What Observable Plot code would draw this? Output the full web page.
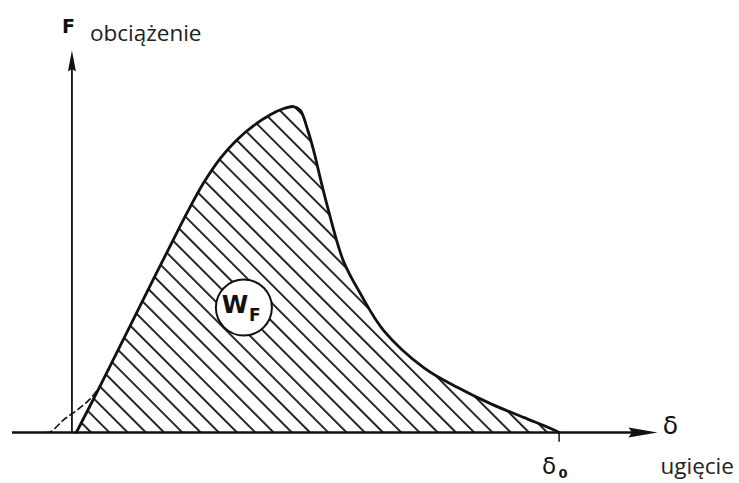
<!DOCTYPE html>
<html>
<head>
<meta charset="utf-8">
<script src="https://cdn.jsdelivr.net/npm/d3@7"></script>
<script src="https://cdn.jsdelivr.net/npm/@observablehq/plot@0.6"></script>
<style>
  html, body { margin: 0; padding: 0; background: #fff; }
  #chart svg { display: block; }
</style>
</head>
<body>
<div id="chart"></div>
<script>
// Load–deflection curve F(δ), δ normalised to δ0 = 1, F normalised to the peak load
const deflection = [0.009, 0.059, 0.120, 0.167, 0.202, 0.237, 0.271, 0.305, 0.339, 0.373, 0.408, 0.435, 0.455, 0.469, 0.483, 0.497, 0.510, 0.524, 0.557, 0.592, 0.640, 0.722, 0.792, 0.859, 0.927, 0.983, 1.0];
const load       = [0.000, 0.145, 0.327, 0.467, 0.570, 0.672, 0.763, 0.837, 0.893, 0.936, 0.970, 0.988, 0.994, 0.982, 0.927, 0.855, 0.774, 0.692, 0.524, 0.424, 0.311, 0.198, 0.137, 0.088, 0.046, 0.012, 0.0];

// Dashed toe: extrapolated initial slope running back to the δ axis
const toeDeflection = [-0.053, -0.043, -0.016, 0.012, 0.039, 0.059];
const toeLoad       = [0.000, 0.003, 0.040, 0.070, 0.105, 0.145];

// Axis extents and the fracture-energy marker
const deltaMin = -0.122, deltaMax = 1.202;
const loadMax = 1.165;
const deltaZero = 1.0;
const energyAt = {delta: 0.353, load: 0.381};

const labels = {
  loadSymbol: "F", loadName: "obciążenie",
  deflSymbol: "δ", deflName: "ugięcie",
  deltaZero: "δ", deltaZeroSub: "0",
  energy: "W", energySub: "F"
};

const curve = deflection.map((d, i) => ({delta: d, load: load[i]}));
const toe = toeDeflection.map((d, i) => ({delta: d, load: toeLoad[i]}));

// Filled, slightly notched arrowhead with its tip at the symbol origin, pointing right
const arrowHead = (len, half) => ({
  draw(ctx) {
    ctx.moveTo(0, 0);
    ctx.lineTo(-len, -half);
    ctx.lineTo(-len * 0.88, 0);
    ctx.lineTo(-len, half);
    ctx.closePath();
  }
});

// Hatch pattern definition rendered inside the plot's SVG
const hatchDefs = () => {
  const ns = "http://www.w3.org/2000/svg";
  const defs = document.createElementNS(ns, "defs");
  const pat = document.createElementNS(ns, "pattern");
  pat.setAttribute("id", "hatch");
  pat.setAttribute("patternUnits", "userSpaceOnUse");
  pat.setAttribute("width", "12.9");
  pat.setAttribute("height", "10");
  pat.setAttribute("patternTransform", "translate(4,0) rotate(-45)");
  const bar = document.createElementNS(ns, "rect");
  bar.setAttribute("x", "0");
  bar.setAttribute("y", "0");
  bar.setAttribute("width", "1.8");
  bar.setAttribute("height", "10");
  bar.setAttribute("fill", "#111");
  pat.appendChild(bar);
  defs.appendChild(pat);
  return defs;
};

const symbolFont = "'DejaVu Sans', sans-serif";
const wordFont = "'Open Sans', 'Noto Sans', sans-serif";

const chart = Plot.plot({
  width: 739,
  height: 483,
  margin: 0,
  x: {domain: [deltaMin, deltaMax], range: [12, 657], axis: null},
  y: {domain: [0, loadMax], range: [432, 50], axis: null},
  style: {background: "#fff"},
  marks: [
    hatchDefs,
    // hatched area W_F under the curve
    Plot.areaY(curve, {x: "delta", y: "load", fill: "url(#hatch)", curve: "catmull-rom"}),
    // axes
    Plot.ruleY([0], {x1: deltaMin, x2: deltaMax - 0.03, stroke: "#111", strokeWidth: 2.4}),
    Plot.ruleX([0], {y1: 0, y2: loadMax - 0.03, stroke: "#111", strokeWidth: 1.8}),
    Plot.dot([0], {x: deltaMax, y: 0, symbol: arrowHead(29, 5), fill: "#111", stroke: "none"}),
    Plot.dot([0], {x: 0, y: loadMax, symbol: arrowHead(21, 4), rotate: -90, fill: "#111", stroke: "none"}),
    // δ0 tick
    Plot.ruleX([deltaZero], {y1: 0, y2: -0.03, stroke: "#111", strokeWidth: 1.5}),
    // dashed extrapolation and the curve itself
    Plot.line(toe, {x: "delta", y: "load", stroke: "#111", strokeWidth: 1.6, strokeDasharray: "6,4", curve: "catmull-rom"}),
    Plot.line(curve, {x: "delta", y: "load", stroke: "#111", strokeWidth: 2.8, curve: "catmull-rom"}),
    // W_F circle
    Plot.dot([energyAt], {x: "delta", y: "load", r: 28, fill: "#fff", stroke: "#111", strokeWidth: 2}),
    Plot.text([energyAt], {x: "delta", y: "load", text: () => labels.energy, dx: -9, dy: -2, fontSize: 24, fontWeight: "bold", fontFamily: symbolFont, fill: "#111"}),
    Plot.text([energyAt], {x: "delta", y: "load", text: () => labels.energySub, dx: 11, dy: 8, fontSize: 17, fontWeight: "bold", fontFamily: symbolFont, fill: "#111"}),
    // axis labels
    Plot.text([0], {x: 0, y: loadMax, text: () => labels.loadSymbol, dx: -3.5, dy: -24, fontSize: 19, fontWeight: "bold", fontFamily: symbolFont, fill: "#111"}),
    Plot.text([0], {x: 0, y: loadMax, text: () => labels.loadName, dx: 18, dy: -17, textAnchor: "start", fontSize: 22.5, fontFamily: wordFont, fill: "#222"}),
    Plot.text([0], {x: deltaMax, y: 0, text: () => labels.deflSymbol, dx: 13, dy: -7, fontSize: 25, fontFamily: symbolFont, fill: "#111"}),
    Plot.text([0], {x: deltaMax, y: 0, text: () => labels.deflName, dx: 3, dy: 34, textAnchor: "start", fontSize: 22.5, fontFamily: wordFont, fill: "#222"}),
    Plot.text([0], {x: deltaZero, y: 0, text: () => labels.deltaZero, dx: -10, dy: 34, fontSize: 23, fontFamily: symbolFont, fill: "#111"}),
    Plot.text([0], {x: deltaZero, y: 0, text: () => labels.deltaZeroSub, dx: 4, dy: 41, fontSize: 13, fontWeight: "bold", fontFamily: symbolFont, fill: "#111"})
  ]
});

document.getElementById("chart").appendChild(chart);
</script>
</body>
</html>
